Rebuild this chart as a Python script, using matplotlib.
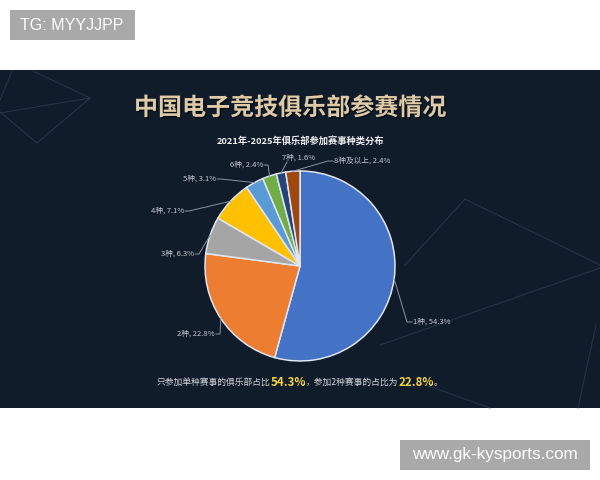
import numpy as np
import matplotlib.pyplot as plt
from matplotlib.patches import Rectangle
import matplotlib.patheffects as pe

plt.rcParams['font.family'] = ['Noto Sans CJK SC', 'DejaVu Sans']

labels = ['1种', '2种', '3种', '4种', '5种', '6种', '7种', '8种及以上']
values = [54.3, 22.8, 6.3, 7.1, 3.1, 2.4, 1.6, 2.4]
colors = ['#4472c4', '#ed7d31', '#a5a5a5', '#ffc000', '#5b9bd5', '#70ad47', '#264478', '#9e480e']

title = '中国电子竞技俱乐部参赛情况'
subtitle = '2021年-2025年俱乐部参加赛事种类分布'
note_parts = [('只参加单种赛事的俱乐部占比', False), ('54.3%', True),
              ('，参加2种赛事的占比为', False), ('22.8%', True), ('。', False)]

# label anchor (pixel coords, y down), alignment
label_pos = [(413, 322, 'left'), (215, 334, 'right'), (194, 254, 'right'),
             (184, 211, 'right'), (216, 179, 'right'), (263, 165, 'right'),
             (299, 158, 'center'), (334, 161, 'left')]

fig = plt.figure(figsize=(6, 4.8), dpi=100)
ax = fig.add_axes([0, 0, 1, 1])

cx, cy, r = 300, 266, 95
wedges, _ = ax.pie(values, colors=colors, center=(cx, cy), radius=r,
                   startangle=-90, counterclock=True,
                   wedgeprops=dict(edgecolor='#dfe6f2', linewidth=1.1))
ax.set_xlim(0, 600)
ax.set_ylim(480, 0)
ax.set_aspect('auto')
ax.axis('off')

# background panel
ax.add_patch(Rectangle((0, 70), 600, 338, facecolor='#111c2b', edgecolor='none', zorder=0))

# faint decoration lines
deco = [[(33, 71), (90, 98), (37, 143), (0, 112)],
        [(0, 113), (90, 98)],
        [(12, 71), (0, 100)],
        [(405, 265), (465, 199), (600, 265)],
        [(380, 345), (600, 268)],
        [(596, 325), (578, 408)],
        [(420, 383), (490, 408)]]
for seg in deco:
    xs, ys = zip(*seg)
    ax.plot(xs, ys, color='#2c394b', lw=0.8, alpha=0.8, zorder=0.5)

# leader lines and labels
for w, lab, val, (tx, ty, ha) in zip(wedges, labels, values, label_pos):
    mid = np.deg2rad((w.theta1 + w.theta2) / 2)
    ex, ey = cx + r * np.cos(mid), cy + r * np.sin(mid)
    if ha == 'left':
        elbow = (tx - 6, ty)
        end = (tx - 1, ty)
    elif ha == 'right':
        elbow = (tx + 5, ty)
        end = (tx + 1, ty)
    else:
        elbow = (tx - 12, ty + 4)
        end = elbow
    ax.plot([ex, elbow[0], end[0]], [ey, elbow[1], end[1]],
            color='#8a93a0', lw=0.7, zorder=3)
    ax.text(tx, ty, f'{lab}, {val}%', ha=ha, va='center', fontsize=5.5,
            color='#c3c8cf', zorder=4)

ax.text(290, 108, title, ha='center', va='center', fontsize=17.3,
        fontweight='bold', color='#dccaa8',
        path_effects=[pe.withSimplePatchShadow(offset=(1, -1), shadow_rgbFace='#000000', alpha=0.6)])
ax.text(300, 142, subtitle, ha='center', va='center', fontsize=6.7,
        fontweight='bold', color='#f0f0f0')

# bottom note with highlighted numbers
renderer = fig.canvas.get_renderer()
x = 157
for txt, hi in note_parts:
    t = ax.text(x, 382, txt, ha='left', va='center',
                fontsize=8.3 if hi else 6.3, fontweight='bold' if hi else 'normal',
                color='#f2d245' if hi else '#d4d7dc')
    x += t.get_window_extent(renderer).width

# watermark boxes
ax.add_patch(Rectangle((10, 10), 125, 30, facecolor='#a9a9a9', edgecolor='none'))
ax.text(72, 25, 'TG: MYYJJPP', ha='center', va='center', fontsize=11.5,
        color='white', family='Liberation Sans')
ax.add_patch(Rectangle((400, 440), 190, 30, facecolor='#a9a9a9', edgecolor='none'))
ax.text(495, 455, 'www.gk-kysports.com', ha='center', va='center', fontsize=12.3,
        color='white', family='Liberation Sans')

fig.savefig('out.png', dpi=100, facecolor='white')
